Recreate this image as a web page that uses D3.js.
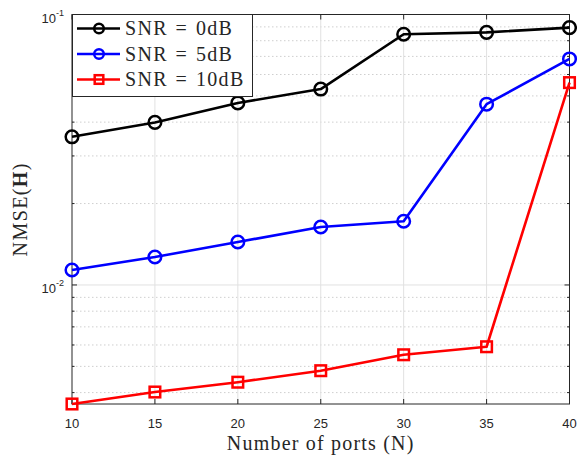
<!DOCTYPE html>
<html>
<head>
<meta charset="utf-8">
<script src="https://cdn.jsdelivr.net/npm/d3@7"></script>
<style>
  body { margin: 0; background: #fff; }
  svg { display: block; }
</style>
</head>
<body>
<div id="chart"></div>
<script>
// data
const ports = [10, 15, 20, 25, 30, 35, 40];
const nmseSnr0 = [0.0353, 0.0399, 0.0471, 0.0530, 0.0845, 0.0859, 0.0894];
const nmseSnr5 = [0.01136, 0.01269, 0.01442, 0.01638, 0.0172, 0.0466, 0.0685];
const nmseSnr10 = [0.00363, 0.00402, 0.00437, 0.00482, 0.00552, 0.00591, 0.0560];
const seriesNames = ["SNR = 0dB", "SNR = 5dB", "SNR = 10dB"];
const xTicks = [10, 15, 20, 25, 30, 35, 40];
const yMajorTicks = [0.01, 0.1];
const yExponents = ["-2", "-1"];

const width = 577, height = 459;
const margin = { left: 72, top: 14.5, right: 7.5, bottom: 55 };
const axisColor = "#262626";

const svg = d3.select("#chart").append("svg")
  .attr("width", width)
  .attr("height", height);

//#region scales
const x = d3.scaleLinear()
  .domain([10, 40])
  .range([margin.left, width - margin.right]);

const y = d3.scaleLog()
  .domain([0.00363, 0.1])
  .range([height - margin.bottom, margin.top]);

const [x0, x1] = x.range();
const [yb, yt] = y.range();
//#endregion

//#region grid
const minorTicks = [];
for (const dec of [0.001, 0.01]) {
  for (let k = 2; k <= 9; k++) {
    const v = k * dec;
    if (v >= y.domain()[0] && v <= y.domain()[1]) minorTicks.push(v);
  }
}

svg.append("g").selectAll("line")
  .data(minorTicks)
  .join("line")
  .attr("x1", x0).attr("x2", x1)
  .attr("y1", d => y(d)).attr("y2", d => y(d))
  .attr("stroke", "#cfcfcf")
  .attr("stroke-width", 1)
  .attr("stroke-dasharray", "1.5,2.5");

svg.append("g").selectAll("line")
  .data(xTicks.slice(1, -1))
  .join("line")
  .attr("x1", d => x(d)).attr("x2", d => x(d))
  .attr("y1", yb).attr("y2", yt)
  .attr("stroke", "#e1e1e1")
  .attr("stroke-width", 1);

svg.append("g").selectAll("line")
  .data([0.01])
  .join("line")
  .attr("x1", x0).attr("x2", x1)
  .attr("y1", d => y(d)).attr("y2", d => y(d))
  .attr("stroke", "#e1e1e1")
  .attr("stroke-width", 1);
//#endregion

//#region axes box and ticks
const axes = svg.append("g")
  .attr("stroke", axisColor)
  .attr("stroke-width", 1);

axes.append("rect")
  .attr("x", x0).attr("y", yt)
  .attr("width", x1 - x0).attr("height", yb - yt)
  .attr("fill", "none");

// x ticks, pointing inward on top and bottom
axes.selectAll(".xt")
  .data(xTicks)
  .join("g")
  .each(function(d) {
    const g = d3.select(this);
    g.append("line").attr("x1", x(d)).attr("x2", x(d)).attr("y1", yb).attr("y2", yb - 5);
    g.append("line").attr("x1", x(d)).attr("x2", x(d)).attr("y1", yt).attr("y2", yt + 5);
  });

// y ticks, major and minor, on left and right
const yTickData = yMajorTicks.map(v => ({ v, len: 5 }))
  .concat(minorTicks.map(v => ({ v, len: 2.5 })));
axes.selectAll(".yt")
  .data(yTickData)
  .join("g")
  .each(function(d) {
    const g = d3.select(this);
    g.append("line").attr("x1", x0).attr("x2", x0 + d.len).attr("y1", y(d.v)).attr("y2", y(d.v));
    g.append("line").attr("x1", x1).attr("x2", x1 - d.len).attr("y1", y(d.v)).attr("y2", y(d.v));
  });

svg.append("g").selectAll("text")
  .data(xTicks)
  .join("text")
  .attr("x", d => x(d))
  .attr("y", yb + 24)
  .attr("text-anchor", "middle")
  .attr("font-family", "Liberation Sans, Arial, sans-serif")
  .attr("font-size", 13)
  .attr("fill", axisColor)
  .text(d => d);

const yLabels = svg.append("g").selectAll("text")
  .data(yMajorTicks)
  .join("text")
  .attr("x", x0 - 8)
  .attr("y", d => y(d) + 8)
  .attr("text-anchor", "end")
  .attr("font-family", "Liberation Sans, Arial, sans-serif")
  .attr("font-size", 13)
  .attr("fill", axisColor);
yLabels.append("tspan").text("10");
yLabels.append("tspan")
  .attr("dy", -6.5)
  .attr("font-size", 9)
  .text((d, i) => yExponents[i]);
//#endregion

//#region axis titles
svg.append("text")
  .attr("x", (x0 + x1) / 2)
  .attr("y", 450)
  .attr("text-anchor", "middle")
  .attr("font-family", "Liberation Serif, Times New Roman, serif")
  .attr("font-size", 20)
  .attr("letter-spacing", 1.2)
  .attr("fill", axisColor)
  .text("Number of ports (N)");

const yTitle = svg.append("text")
  .attr("transform", `translate(27, ${(yt + yb) / 2}) rotate(-90)`)
  .attr("text-anchor", "middle")
  .attr("font-family", "Liberation Serif, Times New Roman, serif")
  .attr("font-size", 20)
  .attr("letter-spacing", 1.4)
  .attr("fill", axisColor);
yTitle.append("tspan").text("NMSE(");
yTitle.append("tspan").attr("font-weight", "bold").text("H");
yTitle.append("tspan").text(")");
//#endregion

//#region series
const series = [
  { name: seriesNames[0], values: nmseSnr0, color: "#000000", marker: "circle" },
  { name: seriesNames[1], values: nmseSnr5, color: "#0000ff", marker: "circle" },
  { name: seriesNames[2], values: nmseSnr10, color: "#ff0000", marker: "square" }
];

const line = d3.line()
  .x(d => x(d[0]))
  .y(d => y(d[1]));

const drawMarker = (g, type, cx, cy, size, color) => {
  if (type === "circle") {
    g.append("circle")
      .attr("cx", cx).attr("cy", cy).attr("r", size)
      .attr("fill", "none").attr("stroke", color).attr("stroke-width", 2.5);
  } else {
    g.append("rect")
      .attr("x", cx - size).attr("y", cy - size)
      .attr("width", size * 2).attr("height", size * 2)
      .attr("fill", "none").attr("stroke", color).attr("stroke-width", 2.5);
  }
};

series.forEach(s => {
  const pts = ports.map((p, i) => [p, s.values[i]]);
  const g = svg.append("g");
  g.append("path")
    .attr("d", line(pts))
    .attr("fill", "none")
    .attr("stroke", s.color)
    .attr("stroke-width", 2.6)
    .attr("stroke-linejoin", "round");
  pts.forEach(p => drawMarker(g, s.marker, x(p[0]), y(p[1]), s.marker === "circle" ? 6.3 : 5.3, s.color));
});
//#endregion

//#region legend
const legend = svg.append("g");
legend.append("rect")
  .attr("x", x0 + 0.5).attr("y", yt)
  .attr("width", 180).attr("height", 82)
  .attr("fill", "#fff")
  .attr("stroke", axisColor)
  .attr("stroke-width", 1);

series.forEach((s, i) => {
  const cy = yt + 14 + i * 25.5;
  const row = legend.append("g");
  row.append("line")
    .attr("x1", x0 + 5).attr("x2", x0 + 48)
    .attr("y1", cy).attr("y2", cy)
    .attr("stroke", s.color).attr("stroke-width", 2.6);
  drawMarker(row, s.marker, x0 + 27, cy, s.marker === "circle" ? 4.8 : 4.3, s.color);
  row.append("text")
    .attr("x", x0 + 53)
    .attr("y", cy + 6.5)
    .attr("font-family", "Liberation Serif, Times New Roman, serif")
    .attr("font-size", 20)
    .attr("letter-spacing", 1.3)
    .attr("word-spacing", 1.5)
    .attr("fill", axisColor)
    .text(s.name);
});
//#endregion
</script>
</body>
</html>
